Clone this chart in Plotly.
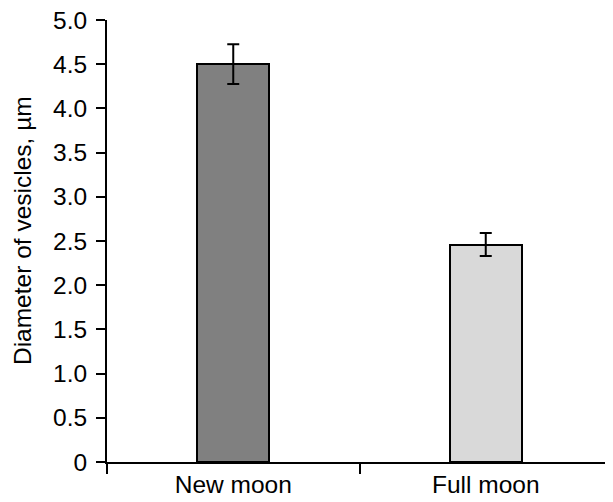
import plotly.graph_objects as go

categories = ["New moon", "Full moon"]
values = [4.50, 2.46]
errors = [0.225, 0.13]
colors = ["#808080", "#d9d9d9"]
y_ticks = [0, 0.5, 1.0, 1.5, 2.0, 2.5, 3.0, 3.5, 4.0, 4.5, 5.0]
y_tick_labels = ["0", "0.5", "1.0", "1.5", "2.0", "2.5", "3.0", "3.5", "4.0", "4.5", "5.0"]
y_title = "Diameter of vesicles, µm"

fig = go.Figure()
fig.add_trace(go.Bar(
    x=categories,
    y=values,
    width=0.285,
    marker=dict(color=colors, line=dict(color="black", width=2)),
    error_y=dict(type="data", array=errors, visible=True,
                 color="black", thickness=2, width=6),
))

font_family = "Liberation Sans, Arial, sans-serif"
fig.update_layout(
    width=613, height=502,
    margin=dict(l=99, r=9, t=12, b=48),
    paper_bgcolor="white", plot_bgcolor="white",
    font=dict(family=font_family, size=24.5, color="black"),
    showlegend=False,
    bargap=0,
)
fig.add_annotation(
    text=y_title, textangle=-90, showarrow=False,
    xref="paper", yref="paper", x=-0.167, y=0.524,
    xanchor="center", yanchor="middle",
    font=dict(size=24.5, color="black"),
)
fig.update_xaxes(
    showline=True, linecolor="black", linewidth=2,
    ticks="outside", ticklen=10, tickwidth=2, tickcolor="black",
    tickson="boundaries", showgrid=False, automargin=False,
    tickfont=dict(size=24.5), ticklabeloverflow="allow",
)
fig.update_yaxes(
    range=[0, 5], showline=True, linecolor="black", linewidth=2,
    ticks="outside", ticklen=9, tickwidth=2, tickcolor="black",
    tickvals=y_ticks, ticktext=y_tick_labels, showgrid=False,
    zeroline=False, automargin=False,
    tickfont=dict(size=24.5), ticklabelstandoff=4,
    ticklabeloverflow="allow",
)
fig.write_html("out.html")
